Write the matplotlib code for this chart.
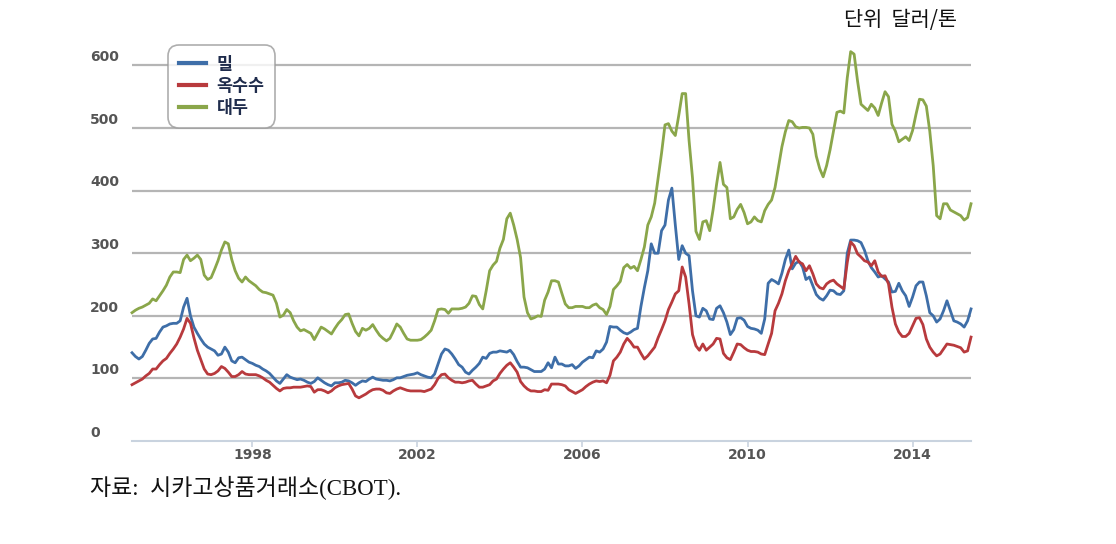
import numpy as np
import matplotlib
matplotlib.use('Agg')
import matplotlib.pyplot as plt

# Monthly prices (dollars/ton), Feb 1995 - Jun 2015
start_year, start_month = 1995, 2

wheat = [
    141, 135, 131, 135, 145, 156, 163, 164, 174, 182,
    184, 187, 188, 188, 192, 214, 228, 200, 182, 172,
    163, 155, 150, 147, 144, 137, 139, 150, 142, 128,
    125, 133, 134, 130, 126, 124, 121, 119, 115, 112,
    108, 102, 96, 92, 99, 106, 102, 100, 98, 99,
    97, 94, 92, 95, 101, 97, 93, 90, 88, 93,
    93, 94, 97, 96, 93, 89, 93, 96, 95, 99,
    102, 99, 98, 97, 97, 96, 98, 101, 101, 103,
    105, 106, 107, 109, 106, 104, 102, 101, 107, 123,
    139, 147, 145, 139, 131, 122, 118, 110, 107, 113,
    118, 124, 134, 132, 140, 142, 142, 144, 143, 142,
    145, 138, 127, 118, 118, 117, 114, 111, 111, 111,
    115, 125, 117, 134, 123, 123, 120, 120, 122, 116,
    120, 126, 130, 134, 133, 144, 142, 147, 158, 183,
    182, 182, 177, 173, 171, 174, 178, 180, 215, 245,
    272, 315, 300, 300, 336, 345, 385, 404, 345, 290,
    312, 300, 296, 240, 200, 198, 212, 208, 195, 194,
    212, 216, 205, 190, 170, 178, 196, 197, 193, 183,
    180, 179, 177, 172, 195, 252, 258, 255, 251, 268,
    290, 305, 275, 284, 287, 278, 258, 262, 248, 234,
    228, 225, 232, 241, 240, 235, 234, 240, 300, 321,
    321, 320, 317, 305, 288, 277, 270, 262, 264, 259,
    254, 238, 239, 252, 240, 232, 215, 230, 248, 254,
    254, 232, 205, 200, 190, 195, 208, 224, 208, 192,
    190, 187, 182, 192, 211,
]

maize = [
    90, 93, 96, 99, 104, 108, 115, 115, 122, 128,
    132, 140, 147, 155, 166, 179, 196, 188, 165, 145,
    130, 115, 107, 106, 108, 112, 119, 116, 110, 103,
    103, 106, 111, 107, 106, 106, 106, 104, 101, 97,
    94, 89, 84, 80, 84, 85, 85, 86, 86, 86,
    87, 88, 87, 78, 82, 82, 80, 77, 80, 85,
    88, 90, 91, 92, 83, 72, 69, 72, 75, 79,
    82, 83, 83, 81, 77, 76, 80, 83, 85, 83,
    81, 80, 80, 80, 80, 79, 81, 83, 90, 100,
    106, 107, 101, 97, 94, 94, 93, 94, 96, 97,
    91, 86, 86, 88, 90, 96, 99, 108, 115, 121,
    125, 118, 110, 95, 88, 83, 80, 80, 79, 79,
    82, 81, 91, 91, 91, 90, 88, 82, 79, 76,
    79, 82, 87, 91, 94, 96, 95, 96, 93, 105,
    128, 134, 142, 155, 164, 158, 150, 150, 140, 131,
    136, 143, 150, 165, 178, 192, 210, 222, 235, 240,
    278, 262, 219, 170, 152, 145, 155, 145, 150, 155,
    164, 163, 140, 133, 130, 142, 155, 154, 149, 145,
    143, 143, 142, 139, 138, 155, 172, 208, 220, 235,
    256, 272, 283, 295, 286, 283, 272, 280, 267, 251,
    245, 243, 251, 255, 257, 251, 247, 243, 285, 318,
    312, 299, 294, 288, 286, 280, 288, 270, 263, 264,
    251, 214, 187, 174, 167, 167, 172, 184, 196, 197,
    186, 163, 150, 142, 136, 139, 147, 155, 154, 153,
    151, 149, 142, 144, 166,
]

soybean = [
    205, 209, 212, 214, 217, 220, 227, 224, 232, 240,
    249, 262, 270, 270, 269, 290, 297, 288, 292, 297,
    290, 265, 258, 261, 274, 288, 305, 318, 315, 290,
    272, 260, 254, 262, 256, 252, 248, 242, 238, 237,
    235, 233, 220, 198, 201, 210, 205, 192, 182, 176,
    178, 175, 172, 162, 172, 182, 179, 175, 171, 180,
    188, 194, 202, 203, 188, 175, 168, 180, 177, 180,
    186, 177, 169, 164, 160, 164, 175, 187, 182, 172,
    163, 161, 161, 161, 162, 166, 171, 177, 192, 210,
    211, 210, 204, 211, 211, 211, 212, 214, 220, 232,
    231, 218, 211, 240, 272, 281, 287, 308, 322, 355,
    364, 345, 322, 293, 230, 205, 195, 197, 200, 199,
    225, 238, 256, 256, 254, 236, 219, 213, 213, 215,
    215, 215, 213, 213, 217, 219, 213, 210, 202, 215,
    242, 248, 255, 277, 282, 276, 279, 272, 290, 310,
    345, 358, 380, 420, 460, 505, 507, 495, 488, 520,
    555, 555, 480, 420, 335, 322, 350, 352, 336, 370,
    410, 445, 410, 405, 355, 358, 370, 378, 365, 347,
    350, 358, 352, 350, 368, 378, 385, 405, 438, 470,
    494, 512, 510, 502, 500, 501, 501, 500, 490, 455,
    435, 422, 440, 465, 495, 525, 527, 524, 580, 622,
    618, 575, 538, 533, 528, 538, 532, 520, 540, 558,
    550, 506, 495, 478, 482, 486, 480, 496, 522, 546,
    545, 535, 495, 440, 360, 355, 379, 379, 369, 366,
    363, 360, 353, 357, 379,
]

series_names = ['밀', '옥수수', '대두']
series_colors = ['#3e6ea8', '#b83a3d', '#8aa64a']
year_ticks = [1998, 2002, 2006, 2010, 2014]
y_ticks = [0, 100, 200, 300, 400, 500, 600]

n = len(wheat)
t = start_year + (start_month - 1 + np.arange(n)) / 12.0

fig = plt.figure(figsize=(11.16, 5.44), dpi=100)
ax = fig.add_axes([0.1183, 0.1893, 0.7518, 0.748])

for vals, name, col in zip([wheat, maize, soybean], series_names, series_colors):
    ax.plot(t, vals, color=col, lw=2.0, label=name, solid_joinstyle='round', clip_on=False)

ax.set_xlim(t[0], t[-1])
ax.set_ylim(0, 650)

# horizontal grid
for v in y_ticks[1:]:
    ax.axhline(v, color='#b5b5b5', lw=1.6, zorder=0)
ax.set_yticks([])

# y labels, drawn above the grid lines at the left
for v in y_ticks:
    ax.text(-0.050, v + 13, str(v), transform=ax.get_yaxis_transform(),
            ha='left', va='center', fontsize=10, fontweight='bold', color='#555555')

for s in ['top', 'right', 'left']:
    ax.spines[s].set_visible(False)
ax.spines['bottom'].set_color('#c9d3df')
ax.spines['bottom'].set_linewidth(1.5)

ax.set_xticks(year_ticks)
ax.set_xticklabels([str(y) for y in year_ticks])
ax.tick_params(axis='x', colors='#c9d3df', length=4, width=1.2, pad=1)
for lab in ax.get_xticklabels():
    lab.set_color('#555555')
    lab.set_fontweight('bold')
    lab.set_fontsize(10)

leg = ax.legend(loc='upper left', bbox_to_anchor=(0.043, 0.973), borderaxespad=0,
                frameon=True, fancybox=True, handlelength=1.6, handletextpad=0.6,
                labelspacing=0.22, borderpad=0.6,
                prop={'family': ['Noto Sans CJK KR', 'DejaVu Sans'], 'weight': 'bold', 'size': 12.5})
leg.get_frame().set_edgecolor('#9a9a9a')
leg.get_frame().set_linewidth(1.2)
leg.get_frame().set_boxstyle('round,pad=0,rounding_size=0.6')
for txt in leg.get_texts():
    txt.set_color('#1f2c4c')
for h in leg.get_lines():
    h.set_linewidth(3)

fig.text(0.807, 0.963, '단위  달러/톤', ha='center', va='center', fontsize=15,
         family=['Noto Sans CJK KR', 'DejaVu Sans'], color='#111111')
fig.text(0.081, 0.103, '자료:  시카고상품거래소(CBOT).', ha='left', va='center', fontsize=16.5,
         family=['Liberation Serif', 'Noto Sans CJK KR'], color='#111111')

fig.savefig('out.png', dpi=100)
